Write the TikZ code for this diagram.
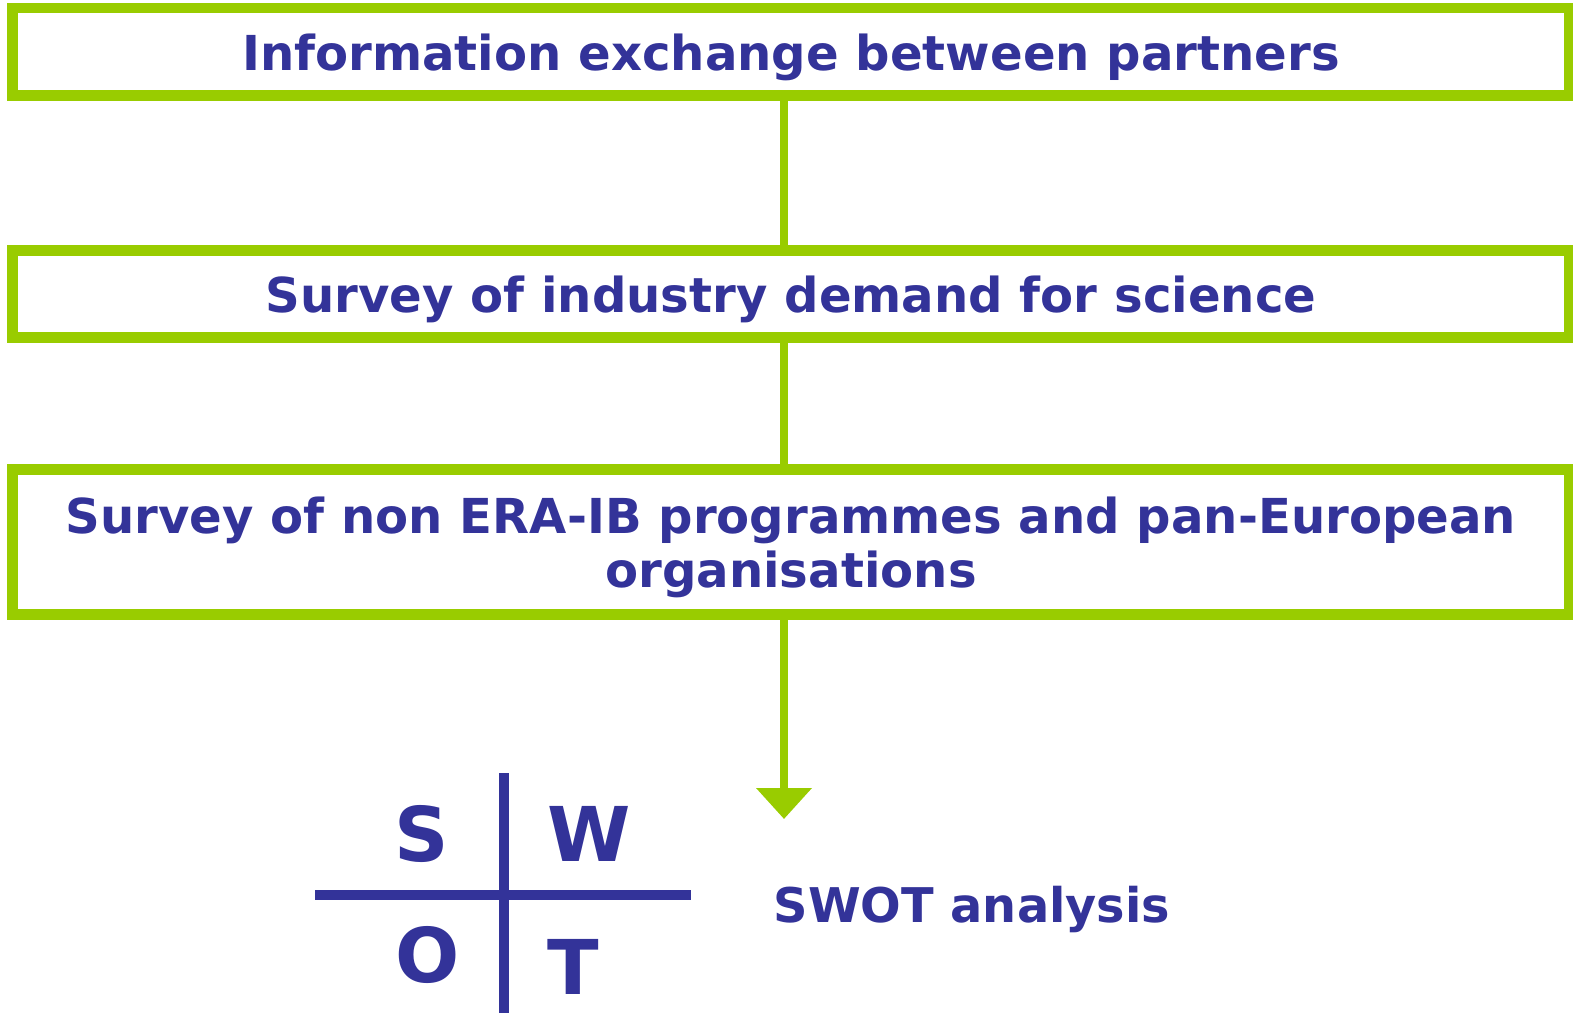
\documentclass[tikz,border=0pt]{standalone}
\usepackage{fontspec}
\setmainfont{DejaVu Sans}
\usetikzlibrary{arrows.meta}

\definecolor{limegreen}{HTML}{99CC00}
\definecolor{swotblue}{HTML}{333399}

\begin{document}
\begin{tikzpicture}[x=0.1mm, y=-0.1mm,
		stepbox/.style={draw=limegreen, line width=1.05mm, minimum width=155.7mm, inner sep=0mm, text depth=0pt, align=center, text=swotblue, font=\bfseries\fontsize{13.7}{15.4}\selectfont},
		link/.style={draw=limegreen, line width=0.85mm},
		letter/.style={text=swotblue, inner sep=0mm, font=\bfseries\fontsize{21.5}{24}\selectfont},
		cross/.style={draw=swotblue, line width=1mm}]
		\useasboundingbox (0,0) rectangle (1573,1013);
		\node[stepbox, minimum height=8.75mm] at (791,52) (info) {Information exchange between partners};
		\node[stepbox, minimum height=8.7mm] at (791,294) (industry) {Survey of industry demand for science};
		\node[stepbox, minimum height=14.5mm] at (791,542) (nonera) {Survey of non ERA-IB programmes and pan-European\\organisations};
		\coordinate (spine) at (784,0);
		\coordinate (tip) at (784,819);
		\draw[link] (info.south -| spine) -- (industry.north -| spine);
		\draw[link] (industry.south -| spine) -- (nonera.north -| spine);
		\draw[link, -{Triangle[width=5.4mm, length=3.1mm]}] (nonera.south -| spine) -- (tip);
		% SWOT cross
		\draw[cross] (504,773) -- (504,1013);
		\draw[cross] (315,895) -- (691,895);
		\node[letter] at (422,834) (s) {S};
		\node[letter] at (589,834) (w) {W};
		\node[letter] at (428,955) (o) {O};
		\node[letter] at (573,967) (t) {T};
		\node[text=swotblue, font=\bfseries\fontsize{13.6}{15}\selectfont, anchor=west, inner sep=0mm] at (773,909) (swot) {SWOT analysis};
	\end{tikzpicture}
\end{document}
